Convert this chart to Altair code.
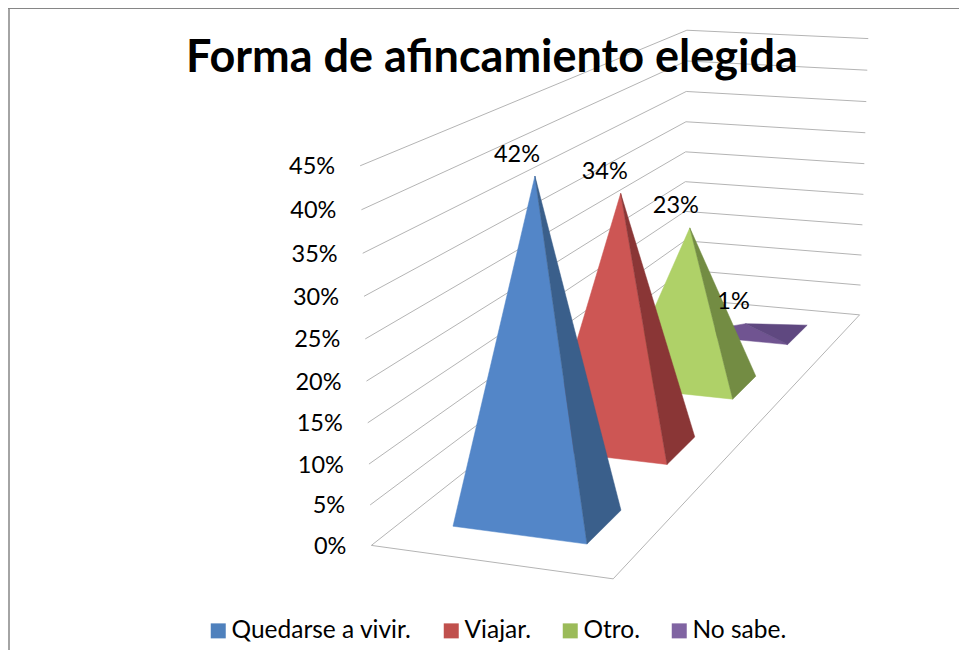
import numpy as np
import pandas as pd
import altair as alt

categories = ["Quedarse a vivir.", "Viajar.", "Otro.", "No sabe."]
values = [42, 34, 23, 1]
axis_ticks = [0, 5, 10, 15, 20, 25, 30, 35, 40, 45]
legend_colors = ["#4F81BD", "#C0504D", "#9BBB59", "#8064A2"]
front_colors = ["#5386C8", "#CD5654", "#AFD168", "#705491"]
side_colors = ["#3A5F8B", "#8A3636", "#738C43", "#5F4880"]
FONT = "Lato"

# Camera calibration for the 3D floor and walls (lateral, depth, value) -> page pixel
left_edge_y = [545.5, 505, 464, 423, 381, 339, 296, 254, 210, 165]
left_edge_x = [371.5, 370, 369, 367, 366, 365, 364, 363, 362, 361]
back_edge_y = [298, 270, 241, 212, 182, 152, 122, 91, 61, 30]
back_edge_x = [685, 685, 685, 685, 685, 686, 686, 686, 686, 686]
right_edge_y = [315, 285, 255, 225, 194, 164, 133, 101, 70, 39]
right_edge_x = [859, 860, 861, 863, 864, 864, 866, 866, 868, 868]

world, screen = [], []
for i, z in enumerate(axis_ticks):
    world += [(0, 0, z), (0, 1, z), (1, 1, z)]
    screen += [(left_edge_x[i], left_edge_y[i]), (back_edge_x[i], back_edge_y[i]), (right_edge_x[i], right_edge_y[i])]
world.append((1, 0, 0))
screen.append((613, 578.7))
A = []
for (s, d, z), (u, v) in zip(world, screen):
    A.append([s, d, z, 1, 0, 0, 0, 0, -u * s, -u * d, -u * z, -u])
    A.append([0, 0, 0, 0, s, d, z, 1, -v * s, -v * d, -v * z, -v])
P = np.linalg.svd(np.array(A, float))[2][-1].reshape(3, 4)

def project(s, d, z):
    q = P @ np.array([s, d, z, 1.0])
    return q[0] / q[2], q[1] / q[2]

W, H = 951, 642
X = alt.X("x:Q", scale=alt.Scale(domain=[8, 8 + W], nice=False, zero=False), axis=None)
Y = alt.Y("y:Q", scale=alt.Scale(domain=[8 + H, 8], nice=False, zero=False), axis=None)

def poly(pts, fill):
    df = pd.DataFrame({"x": [p[0] for p in pts], "y": [p[1] for p in pts], "o": range(len(pts))})
    return alt.Chart(df).mark_line(fill=fill, stroke=fill, strokeWidth=0.5, interpolate="linear-closed").encode(x=X, y=Y, order="o:Q")

def path(pts, color="#B4B4B4"):
    df = pd.DataFrame({"x": [p[0] for p in pts], "y": [p[1] for p in pts], "o": range(len(pts))})
    return alt.Chart(df).mark_line(stroke=color, strokeWidth=1).encode(x=X, y=Y, order="o:Q")

layers = []
layers.append(alt.Chart(pd.DataFrame({"a": [0]})).mark_rule(color="#868686", strokeWidth=1.5).encode(x=alt.value(1), y=alt.value(0), y2=alt.value(H)))
layers.append(alt.Chart(pd.DataFrame({"a": [0]})).mark_rule(color="#868686", strokeWidth=2).encode(x=alt.value(0), x2=alt.value(W), y=alt.value(0)))
for z in axis_ticks:
    layers.append(path([project(0, 0, z), project(0, 1, z), project(1, 1, z)]))
layers.append(path([project(0, 0, 0), project(1, 0, 0), project(1, 1, 0)]))

half_s, half_d = 0.285, 0.05
centers_d = [0.125, 0.375, 0.625, 0.875]
for i in [3, 2, 1, 0]:
    d, v = centers_d[i], values[i]
    fl = project(0.5 - half_s, d - half_d, 0)
    fr = project(0.5 + half_s, d - half_d, 0)
    br = project(0.5 + half_s, d + half_d, 0)
    top = project(0.5, d, v)
    layers.append(poly([fl, fr, top], front_colors[i]))
    layers.append(poly([fr, br, top], side_colors[i]))

tops = [project(0.5, centers_d[i], values[i]) for i in range(4)]
labels = pd.DataFrame({"x": [t[0] - 18 + 2 * i for i, t in enumerate(tops)], "y": [t[1] for t in tops], "t": [f"{v}%" for v in values]})
layers.append(alt.Chart(labels).mark_text(font=FONT, fontSize=23.5, dy=-21.5, color="#000").encode(x=X, y=Y, text="t:N"))

lefts = [project(0, 0, z) for z in axis_ticks]
ticks = pd.DataFrame({"x": [p[0] for p in lefts], "y": [p[1] for p in lefts], "t": [f"{z}%" for z in axis_ticks]})
layers.append(alt.Chart(ticks).mark_text(font=FONT, fontSize=23.5, align="right", baseline="middle", dx=-25, dy=1.5, color="#000").encode(x=X, y=Y, text="t:N"))

legend_df = pd.DataFrame({"x": [500] * 4, "y": [300] * 4, "cat": categories})
layers.append(alt.Chart(legend_df).mark_square(size=0).encode(
    x=X, y=Y,
    color=alt.Color("cat:N", sort=categories, scale=alt.Scale(domain=categories, range=legend_colors),
                    legend=alt.Legend(title=None, orient="none", legendX=198, legendY=610.5, direction="horizontal", columns=4,
                                      symbolType="square", symbolSize=225, symbolOpacity=1, labelFont=FONT, labelFontSize=24.5,
                                      labelOffset=1, labelLimit=400, labelColor="#000", columnPadding=27, gridAlign="each", symbolStrokeWidth=0))))

chart = alt.layer(*layers).properties(
    width=W, height=H,
    title=alt.TitleParams("Forma de afincamiento elegida", font=FONT, fontSize=45, fontWeight="bold", color="#000",
                          anchor="start", baseline="alphabetic", offset=0, dx=179, dy=110),
    autosize=alt.AutoSizeParams(type="none"), padding=0,
).configure_view(stroke=None)
chart.save("out.html", embed_options={"renderer": "svg", "actions": False})
